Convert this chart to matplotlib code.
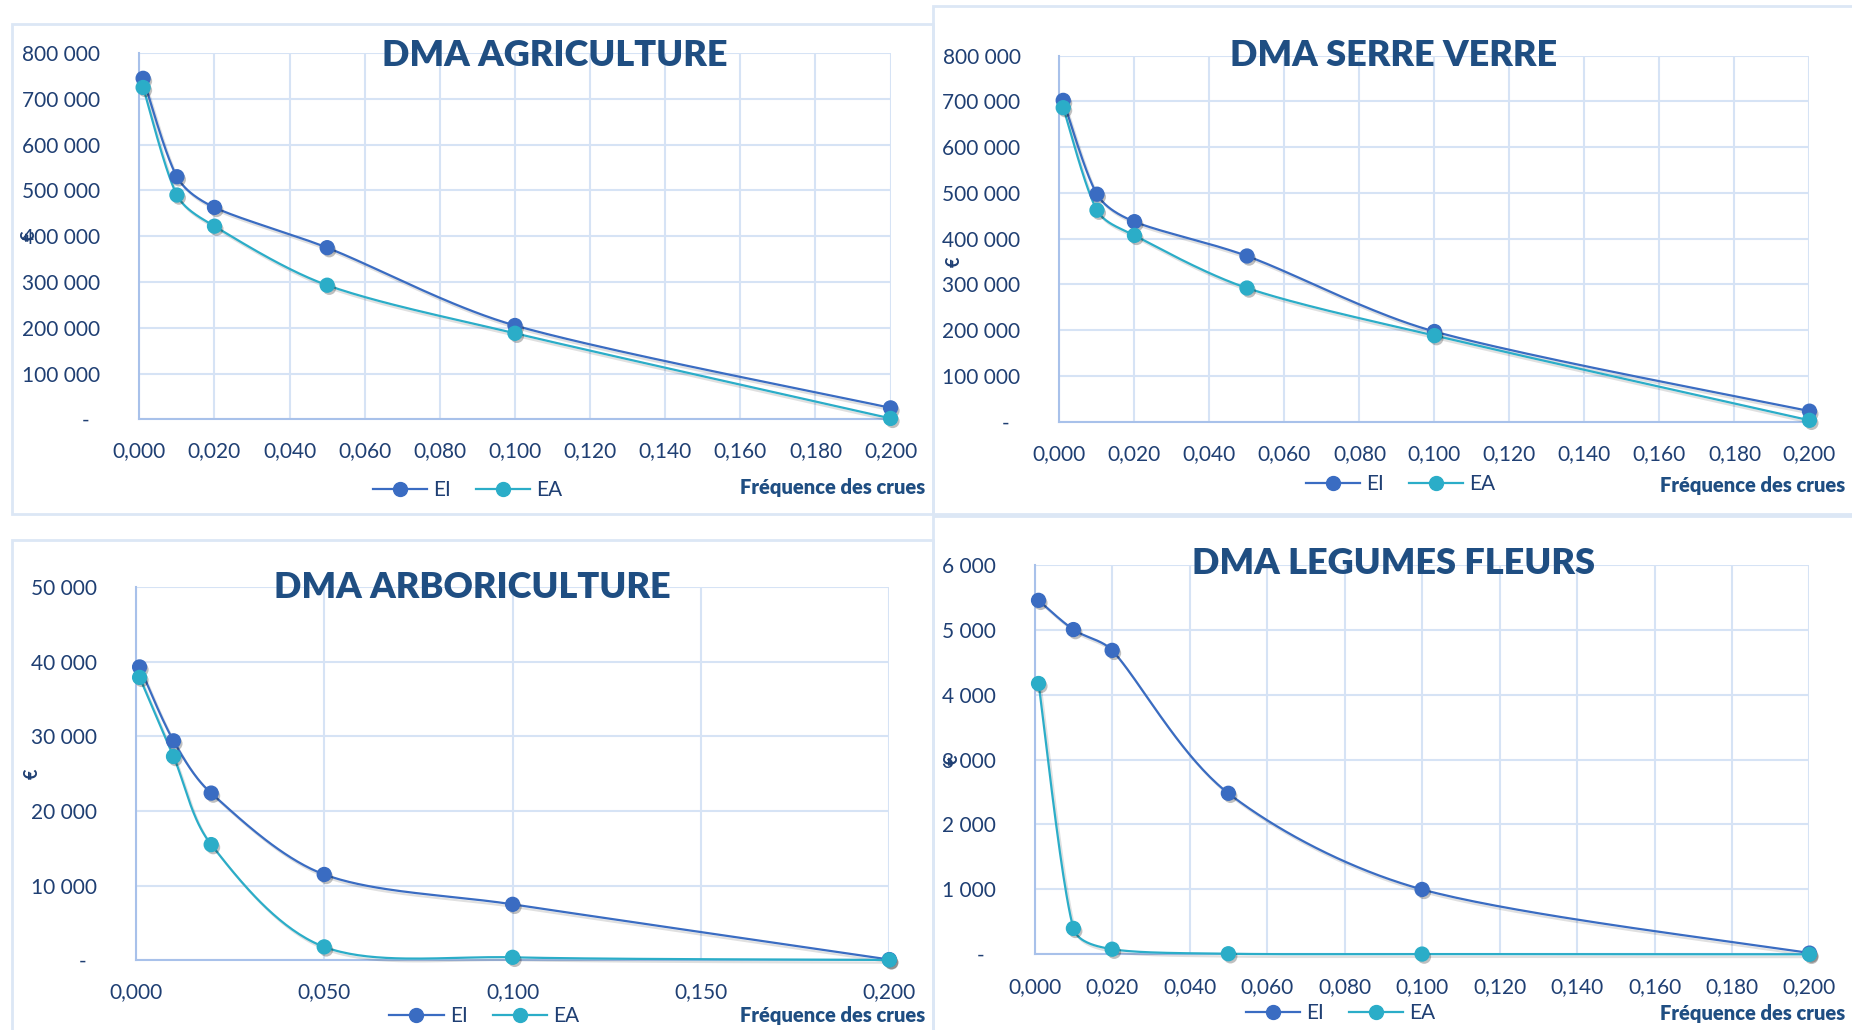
import numpy as np
import matplotlib
matplotlib.use("Agg")
import matplotlib.pyplot as plt
import matplotlib.patheffects as pe
from matplotlib.lines import Line2D
from matplotlib.patches import Rectangle
from matplotlib.ticker import FuncFormatter

plt.rcParams['font.family'] = ['Lato', 'DejaVu Sans']

# flood frequencies (same for every chart)
freq = [0.001, 0.01, 0.02, 0.05, 0.1, 0.2]

agri_ei = [745000, 530000, 463000, 375000, 205000, 25000]
agri_ea = [725000, 490000, 422000, 293000, 188000, 2000]

serre_ei = [702000, 497000, 437000, 362000, 197000, 23000]
serre_ea = [686000, 462000, 407000, 292000, 188000, 3000]

arbo_ei = [39300, 29400, 22400, 11500, 7500, 100]
arbo_ea = [37900, 27300, 15500, 1800, 400, 50]

leg_ei = [5450, 5000, 4680, 2480, 1000, 20]
leg_ea = [4170, 400, 80, 10, 5, 1]

titles = ["DMA AGRICULTURE", "DMA SERRE VERRE", "DMA ARBORICULTURE", "DMA LEGUMES FLEURS"]
series_labels = ["EI", "EA"]

C_EI = "#3A6CC2"
C_EA = "#2BADC8"
C_TEXT = "#1F3F73"
C_TITLE = "#1F4E82"
C_GRID = "#D6E3F5"
C_SPINE = "#A8C1EA"
C_BOX = "#DCE7F5"


def smooth(x, y, sx, sy, n=40):
    # smoothed line: Bezier segments with Catmull-Rom tangents, handles capped
    # to a third of the segment (in screen proportions) so the curve can't overshoot
    p = np.column_stack([np.asarray(x, float) * sx, np.asarray(y, float) * sy])
    ext = np.vstack([p[:1], p, p[-1:]])
    t = np.linspace(0, 1, n)[:, None]
    out = []
    for i in range(len(p) - 1):
        a, b = p[i], p[i + 1]
        seg = np.hypot(*(b - a)) / 3
        h1 = (ext[i + 2] - ext[i]) / 6
        h2 = (ext[i + 3] - ext[i + 1]) / 6
        for h in (h1, h2):
            m = np.hypot(*h)
            if m > seg:
                h *= seg / m
        c1, c2 = a + h1, b - h2
        out.append((1 - t) ** 3 * a + 3 * (1 - t) ** 2 * t * c1 + 3 * (1 - t) * t ** 2 * c2 + t ** 3 * b)
    out = np.vstack(out)
    return out[:, 0] / sx, out[:, 1] / sy


def yfmt(v, pos):
    if abs(v) < 1e-9:
        return "-  "
    return f"{int(round(v)):,}".replace(",", " ")


def xfmt(v, pos):
    return f"{v:.3f}".replace(".", ",")


fig = plt.figure(figsize=(18.52, 10.30), dpi=100)
W, H = 1568.0, 872.0

# panel frames
for (x0, y0, x1, y1) in [(10, 20, 790, 435), (790, 5, 1575, 435),
                         (10, 457, 790, 880), (790, 437, 1575, 880)]:
    fig.patches.append(Rectangle((x0 / W, 1 - y1 / H), (x1 - x0) / W, (y1 - y0) / H,
                                 transform=fig.transFigure, fill=False,
                                 edgecolor=C_BOX, lw=2, zorder=0))

panels = [
    dict(rect=(118, 45, 754, 355), data=(agri_ei, agri_ea), ymax=800000, ystep=100000,
         xstep=0.02, title_xy=(470, 47), leg_xy=(396, 415), xl_xy=(783, 413), eur_xy=(25, 200)),
    dict(rect=(897, 47, 1532, 357), data=(serre_ei, serre_ea), ymax=800000, ystep=100000,
         xstep=0.02, title_xy=(1180, 47), leg_xy=(1186, 410), xl_xy=(1562, 411), eur_xy=(808, 222)),
    dict(rect=(115, 497, 753, 813), data=(arbo_ei, arbo_ea), ymax=50000, ystep=10000,
         xstep=0.05, title_xy=(400, 497), leg_xy=(410, 860), xl_xy=(783, 860), eur_xy=(27, 655)),
    dict(rect=(876, 478, 1532, 808), data=(leg_ei, leg_ea), ymax=6000, ystep=1000,
         xstep=0.02, title_xy=(1180, 477), leg_xy=(1135, 858), xl_xy=(1562, 858), eur_xy=(806, 643)),
]

shadow = [pe.SimplePatchShadow(offset=(1.5, -2), shadow_rgbFace="#000000", alpha=0.25), pe.Normal()]
line_shadow = [pe.SimpleLineShadow(offset=(1.5, -2), shadow_color="#000000", alpha=0.12), pe.Normal()]

for p, title in zip(panels, titles):
    l, t, r, b = p["rect"]
    ax = fig.add_axes([l / W, 1 - b / H, (r - l) / W, (b - t) / H])
    ax.set_xlim(0, 0.2)
    ax.set_ylim(0, p["ymax"])
    ax.set_xticks(np.arange(0, 0.2 + 1e-9, p["xstep"]))
    ax.set_yticks(np.arange(0, p["ymax"] + 1, p["ystep"]))
    ax.yaxis.set_major_formatter(FuncFormatter(yfmt))
    ax.xaxis.set_major_formatter(FuncFormatter(xfmt))
    ax.tick_params(length=0, labelsize=15, colors=C_TEXT)
    ax.tick_params(axis="y", pad=28)
    ax.tick_params(axis="x", pad=16)
    ax.grid(True, color=C_GRID, lw=1.5)
    ax.set_axisbelow(True)
    for s in ("top", "right"):
        ax.spines[s].set_visible(False)
    for s in ("left", "bottom"):
        ax.spines[s].set_color(C_SPINE)
        ax.spines[s].set_linewidth(1.5)

    for vals, col in zip(p["data"], (C_EI, C_EA)):
        sx, sy = smooth(freq, vals, (r - l) / 0.2, (b - t) / p["ymax"])
        ax.plot(sx, sy, color=col, lw=1.6, clip_on=False, zorder=3, path_effects=line_shadow)
        ax.plot(freq, vals, "o", color=col, ms=10, clip_on=False, zorder=4,
                path_effects=shadow)

    tx, ty = p["title_xy"]
    fig.text(tx / W, 1 - ty / H, title, ha="center", va="center", fontsize=26,
             fontweight="heavy", color=C_TITLE)

    xx, xy = p["xl_xy"]
    fig.text(xx / W, 1 - xy / H, "Fréquence des crues", ha="right", va="center",
             fontsize=14.5, fontweight="heavy", color=C_TITLE)

    ex, ey = p["eur_xy"]
    fig.text(ex / W, 1 - ey / H, "€", ha="center", va="center", rotation=90,
             fontsize=13, fontweight="bold", color=C_TEXT)

    handles = [Line2D([], [], color=c, lw=1.6, marker="o", ms=10) for c in (C_EI, C_EA)]
    lx, ly = p["leg_xy"]
    fig.legend(handles, series_labels, loc="center", bbox_to_anchor=(lx / W, 1 - ly / H),
               ncol=2, frameon=False, fontsize=15, labelcolor=C_TEXT,
               handlelength=2.6, columnspacing=1.2, handletextpad=0.3)

fig.savefig("out.png", dpi=100, facecolor="white")
